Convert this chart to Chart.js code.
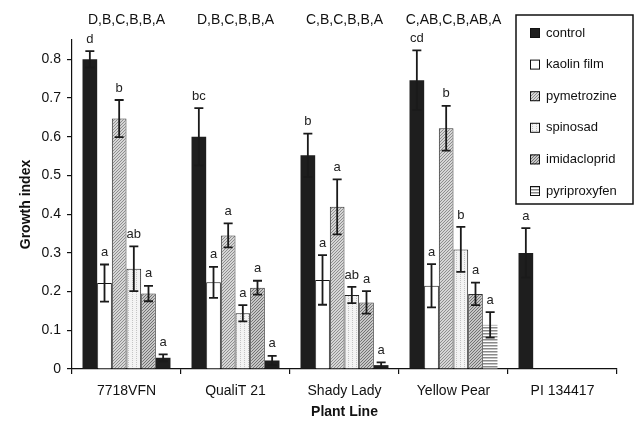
<!DOCTYPE html>
<html>
<head>
<meta charset="utf-8">
<script src="https://cdn.jsdelivr.net/npm/chart.js@4.4.1/dist/chart.umd.min.js"></script>
<style>
  html, body { margin: 0; padding: 0; background: #fff; }
  #wrap { width: 634px; height: 425px; position: relative; }
</style>
</head>
<body>
<div id="wrap"><canvas id="growthChart"></canvas></div>
<script>
// data
const plantLines = ['7718VFN', 'QualiT 21', 'Shady Lady', 'Yellow Pear', 'PI 134417'];
const groupLetters = ['D,B,C,B,B,A', 'D,B,C,B,B,A', 'C,B,C,B,B,A', 'C,AB,C,B,AB,A', ''];

const treatments = ['control', 'kaolin film', 'pymetrozine', 'spinosad', 'imidacloprid', 'pyriproxyfen'];

const control      = [0.800, 0.600, 0.552, 0.746, 0.300];
const kaolin       = [0.222, 0.224, 0.230, 0.215, null];
const pymetrozine  = [0.647, 0.345, 0.419, 0.622, null];
const spinosad     = [0.259, 0.144, 0.191, 0.309, null];
const imidacloprid = [0.195, 0.210, 0.172, 0.194, null];
const pyriproxyfen = [0.029, 0.022, 0.010, 0.114, null];

const controlErr      = [0.021, 0.074, 0.056, 0.077, 0.064];
const kaolinErr       = [0.048, 0.040, 0.064, 0.056, null];
const pymetrozineErr  = [0.048, 0.031, 0.071, 0.058, null];
const spinosadErr     = [0.058, 0.021, 0.021, 0.058, null];
const imidaclopridErr = [0.020, 0.018, 0.029, 0.029, null];
const pyriproxyfenErr = [0.009, 0.012, 0.007, 0.033, null];

const controlSig      = ['d', 'bc', 'b', 'cd', 'a'];
const kaolinSig       = ['a', 'a', 'a', 'a', ''];
const pymetrozineSig  = ['b', 'a', 'a', 'b', ''];
const spinosadSig     = ['ab', 'a', 'ab', 'b', ''];
const imidaclopridSig = ['a', 'a', 'a', 'a', ''];
const pyriproxyfenSig = ['a', 'a', 'a', 'a', ''];

const yTicks = [0, 0.1, 0.2, 0.3, 0.4, 0.5, 0.6, 0.7, 0.8];

const FONT = "'Liberation Sans', Arial, sans-serif";

// fill patterns for the treatments
function makePattern(size, draw) {
    const c = document.createElement('canvas');
    c.width = c.height = size;
    const g = c.getContext('2d');
    draw(g, size);
    return document.createElement('canvas').getContext('2d').createPattern(c, 'repeat');
}

function diagonal(bg, fg, step) {
    return makePattern(step, (g, s) => {
        g.fillStyle = bg; g.fillRect(0, 0, s, s);
        g.strokeStyle = fg; g.lineWidth = 1;
        g.beginPath();
        g.moveTo(-1, s + 1); g.lineTo(s + 1, -1);
        g.moveTo(-1, 1); g.lineTo(1, -1);
        g.moveTo(s - 1, s + 1); g.lineTo(s + 1, s - 1);
        g.stroke();
    });
}

const pymetrozineFill = diagonal('#d6d6d6', '#8e8e8e', 3);
const imidaclopridFill = diagonal('#c6c6c6', '#727272', 3);
const spinosadFill = makePattern(4, (g, s) => {
    g.fillStyle = '#f3f3f3'; g.fillRect(0, 0, s, s);
    g.fillStyle = '#c4c4c4';
    g.fillRect(0, 0, 1, 1); g.fillRect(0, 2, 1, 1);
});
const pyriproxyfenFill = makePattern(3, (g, s) => {
    g.fillStyle = '#ffffff'; g.fillRect(0, 0, s, s);
    g.fillStyle = '#8a8a8a'; g.fillRect(0, 0, s, 1.5);
});

const series = [
    { data: control, err: controlErr, sig: controlSig, fill: '#1e1e1e', border: '#1e1e1e', bw: 0 },
    { data: kaolin, err: kaolinErr, sig: kaolinSig, fill: '#ffffff', border: '#111', bw: 1 },
    { data: pymetrozine, err: pymetrozineErr, sig: pymetrozineSig, fill: pymetrozineFill, border: '#333', bw: 1 },
    { data: spinosad, err: spinosadErr, sig: spinosadSig, fill: spinosadFill, border: '#222', bw: 1 },
    { data: imidacloprid, err: imidaclopridErr, sig: imidaclopridSig, fill: imidaclopridFill, border: '#333', bw: 1 },
    // the short pyriproxyfen bars print as solid dark in the figure
    { data: pyriproxyfen, err: pyriproxyfenErr, sig: pyriproxyfenSig,
      fill: ['#1e1e1e', '#1e1e1e', '#1e1e1e', pyriproxyfenFill, pyriproxyfenFill], border: '#1e1e1e', bw: 0 }
];

const legendFills = ['#1e1e1e', '#ffffff', pymetrozineFill, spinosadFill, imidaclopridFill, pyriproxyfenFill];

// error bars + significance letters
const errorBars = {
    id: 'errorBars',
    afterDatasetsDraw(chart) {
        const ctx = chart.ctx;
        const y = chart.scales.y;
        ctx.save();
        series.forEach((s, i) => {
            const meta = chart.getDatasetMeta(i);
            meta.data.forEach((bar, j) => {
                const v = s.data[j];
                if (v == null) return;
                const hi = y.getPixelForValue(v + s.err[j]);
                const lo = y.getPixelForValue(Math.max(0, v - s.err[j]));
                ctx.strokeStyle = '#1a1a1a';
                ctx.lineWidth = 1.8;
                ctx.beginPath();
                ctx.moveTo(bar.x, hi); ctx.lineTo(bar.x, lo);
                ctx.moveTo(bar.x - 4.5, hi); ctx.lineTo(bar.x + 4.5, hi);
                if (v - s.err[j] > 0) { ctx.moveTo(bar.x - 4.5, lo); ctx.lineTo(bar.x + 4.5, lo); }
                ctx.stroke();
                ctx.fillStyle = '#222';
                ctx.font = '13px ' + FONT;
                ctx.textAlign = 'center';
                ctx.textBaseline = 'middle';
                ctx.fillText(s.sig[j], bar.x, hi - 12);
            });
        });
        ctx.restore();
    }
};

// letters over each plant line and the boxed legend
const decorations = {
    id: 'decorations',
    afterDraw(chart) {
        const ctx = chart.ctx;
        const x = chart.scales.x;
        ctx.save();
        ctx.fillStyle = '#111';
        ctx.font = '14px ' + FONT;
        ctx.textAlign = 'center';
        ctx.textBaseline = 'middle';
        groupLetters.forEach((t, i) => ctx.fillText(t, x.getPixelForValue(i), 20));

        const bx = 516, by = 15, bw = 117, bh = 189;
        ctx.fillStyle = '#fff';
        ctx.fillRect(bx, by, bw, bh);
        ctx.strokeStyle = '#111';
        ctx.lineWidth = 1.5;
        ctx.strokeRect(bx, by, bw, bh);
        ctx.font = '13px ' + FONT;
        ctx.textAlign = 'left';
        treatments.forEach((name, i) => {
            const cy = 33 + i * 31.6;
            ctx.fillStyle = legendFills[i];
            ctx.fillRect(530, cy - 5, 10, 10);
            ctx.strokeStyle = '#111';
            ctx.lineWidth = 1;
            ctx.strokeRect(530.5, cy - 4.5, 9, 9);
            ctx.fillStyle = '#111';
            ctx.fillText(name, 546, cy);
        });
        ctx.restore();
    }
};

new Chart(document.getElementById('growthChart'), {
    type: 'bar',
    data: {
        labels: plantLines,
        datasets: series.map((s, i) => ({
            label: treatments[i],
            data: s.data,
            backgroundColor: s.fill,
            borderColor: s.border,
            borderWidth: s.bw,
            categoryPercentage: 0.807,
            barPercentage: 1.0
        }))
    },
    options: {
        responsive: true,
        maintainAspectRatio: false,
        animation: false,
        layout: { padding: { top: 40, right: 17, bottom: 0, left: 0 } },
        plugins: { legend: { display: false }, tooltip: { enabled: false } },
        scales: {
            x: {
                afterFit(scale) { scale.height = 56; },
                border: { color: '#111', width: 1.2 },
                grid: { offset: true, drawOnChartArea: false, color: '#111', tickLength: 5, lineWidth: 1.2 },
                ticks: { color: '#111', font: { family: FONT, size: 14 }, padding: 9 },
                title: { display: true, text: 'Plant Line', color: '#111',
                         font: { family: FONT, size: 14, weight: 'bold' }, padding: { top: 0, bottom: 4 } }
            },
            y: {
                min: 0,
                max: 0.85,
                afterFit(scale) { scale.width = 72; },
                afterBuildTicks(scale) { scale.ticks = yTicks.map(v => ({ value: v })); },
                border: { color: '#111', width: 1.2 },
                grid: { drawOnChartArea: false, color: '#111', tickLength: 5, lineWidth: 1.2 },
                ticks: { color: '#111', font: { family: FONT, size: 14 }, padding: 6,
                         callback: v => v === 0 ? '0' : v.toFixed(1) },
                title: { display: true, text: 'Growth index', color: '#111',
                         font: { family: FONT, size: 14, weight: 'bold' }, padding: { top: 18, bottom: 0 } }
            }
        }
    },
    plugins: [errorBars, decorations]
});
</script>
</body>
</html>
